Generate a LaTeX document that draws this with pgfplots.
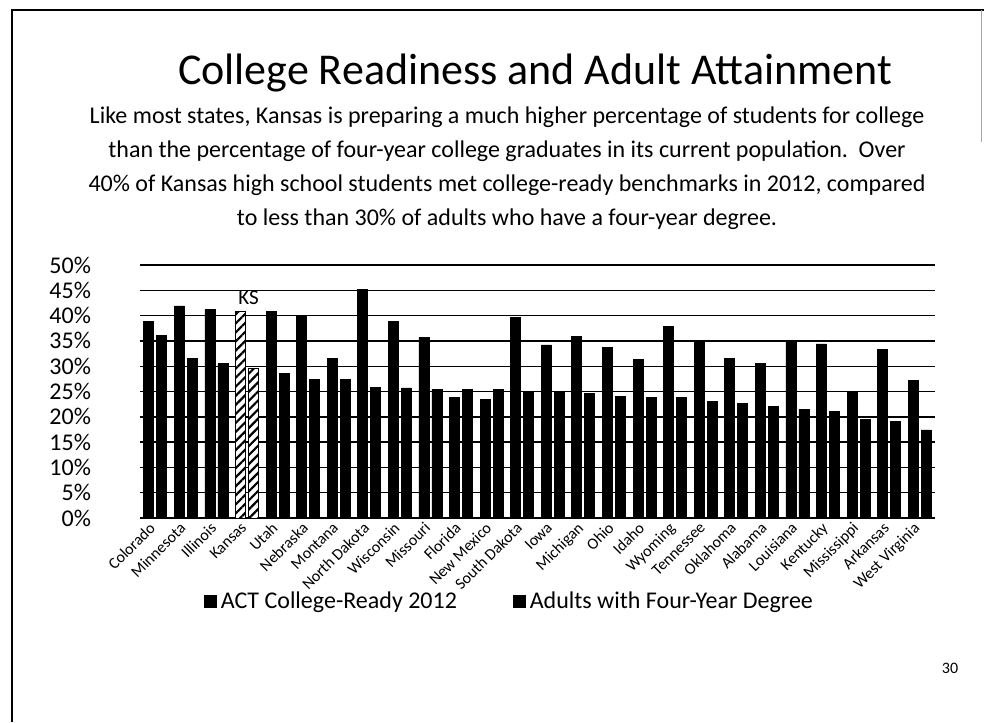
\documentclass[border=0pt]{standalone}
\usepackage{fontspec}
\setmainfont{Carlito}
\usepackage{pgfplots}
\pgfplotsset{compat=1.18}
\usetikzlibrary{patterns.meta}

\begin{document}
\begin{tikzpicture}
\path[use as bounding box] (0,0) rectangle (492pt,361pt);
% slide frame
\draw[line width=1.3pt] (6pt,0pt) -- (6pt,356pt) -- (492pt,356pt);
\draw[black!35, line width=0.5pt] (490.5pt,356pt) -- (490.5pt,290pt);

\node[anchor=base, font=\fontsize{22}{26}\selectfont] at (267.5pt,318.5pt) {College Readiness and Adult Attainment};
\begin{scope}[every node/.style={anchor=base, font=\fontsize{12}{14}\selectfont}]
\node at (253.5pt,299pt) {Like most states, Kansas is preparing a much higher percentage of students for college};
\node at (253.5pt,282pt) {than the percentage of four-year college graduates in its current population.\ \ Over};
\node at (253.5pt,265pt) {40\% of Kansas high school students met college-ready benchmarks in 2012, compared};
\node at (253.5pt,248pt) {to less than 30\% of adults who have a four-year degree.};
\end{scope}

\begin{axis}[
    at={(70pt,102pt)}, anchor=south west,
    scale only axis,
    width=397.5pt, height=126.5pt,
    xmin=-0.5, xmax=25.5,
    ymin=0, ymax=50,
    clip=false,
    axis line style={draw=none},
    tick style={draw=none},
    ymajorgrids,
    major grid style={black, line width=0.7pt},
    ytick={0,5,...,50},
    yticklabels={0\%,5\%,10\%,15\%,20\%,25\%,30\%,35\%,40\%,45\%,50\%},
    yticklabel style={font=\fontsize{12}{14}\selectfont, xshift=-21pt},
    xtick={0,...,25},
    xticklabels={Colorado,Minnesota,Illinois,Kansas,Utah,Nebraska,Montana,North Dakota,Wisconsin,Missouri,Florida,New Mexico,South Dakota,Iowa,Michigan,Ohio,Idaho,Wyoming,Tennessee,Oklahoma,Alabama,Louisiana,Kentucky,Mississippi,Arkansas,West Virginia},
    xticklabel style={font=\fontsize{8}{10}\selectfont, xshift=-3.5pt, yshift=0pt, rotate=45, anchor=north east, inner sep=1pt},
    legend columns=2,
    legend style={at={(0.466,-0.332)}, anchor=center, draw=none, fill=none,
        font=\fontsize{12}{14}\selectfont,
        /tikz/every even column/.append style={column sep=26pt}},
    legend image code/.code={\fill[black] (0pt,-2.6pt) rectangle (6pt,3.4pt);},
]
% ACT College-Ready 2012 (Kansas drawn separately)
\addplot[ybar, bar width=5pt, bar shift=-3.25pt, fill=black, draw=black] coordinates {
(0,38.9) (1,41.9) (2,41.2) (4,40.9) (5,40.0) (6,31.5) (7,45.1) (8,38.8)
(9,35.7) (10,23.8) (11,23.4) (12,39.6) (13,34.2) (14,35.9) (15,33.7) (16,31.4)
(17,37.9) (18,35.1) (19,31.5) (20,30.5) (21,35.1) (22,34.4) (23,25.0) (24,33.3) (25,27.2)};
\addlegendentry{ACT College-Ready 2012}
% Adults with Four-Year Degree
\addplot[ybar, bar width=5pt, bar shift=3.25pt, fill=black, draw=black] coordinates {
(0,36.0) (1,31.5) (2,30.6) (4,28.6) (5,27.4) (6,27.4) (7,25.8) (8,25.7)
(9,25.4) (10,25.4) (11,25.4) (12,25.0) (13,25.0) (14,24.6) (15,24.1) (16,23.9)
(17,23.8) (18,23.0) (19,22.7) (20,22.0) (21,21.4) (22,21.0) (23,19.5) (24,19.0) (25,17.4)};
\addlegendentry{Adults with Four-Year Degree}
% Kansas, hatched
\addplot[ybar, bar width=5pt, bar shift=-3.25pt, draw=black, line width=0.4pt, preaction={fill=white},
    pattern={Lines[angle=45, distance=3.2pt, line width=1.1pt]}, forget plot] coordinates {(3,40.9)};
\addplot[ybar, bar width=5pt, bar shift=3.25pt, draw=black, line width=0.4pt, preaction={fill=white},
    pattern={Lines[angle=45, distance=3.2pt, line width=1.1pt]}, forget plot] coordinates {(3,29.6)};
\node[font=\fontsize{10.5}{12}\selectfont, inner sep=1pt] at (axis cs:3.05,43.6) {KS};
\end{axis}

\node[font=\fontsize{8}{9}\selectfont] at (475pt,27pt) {30};
\end{tikzpicture}
\end{document}
